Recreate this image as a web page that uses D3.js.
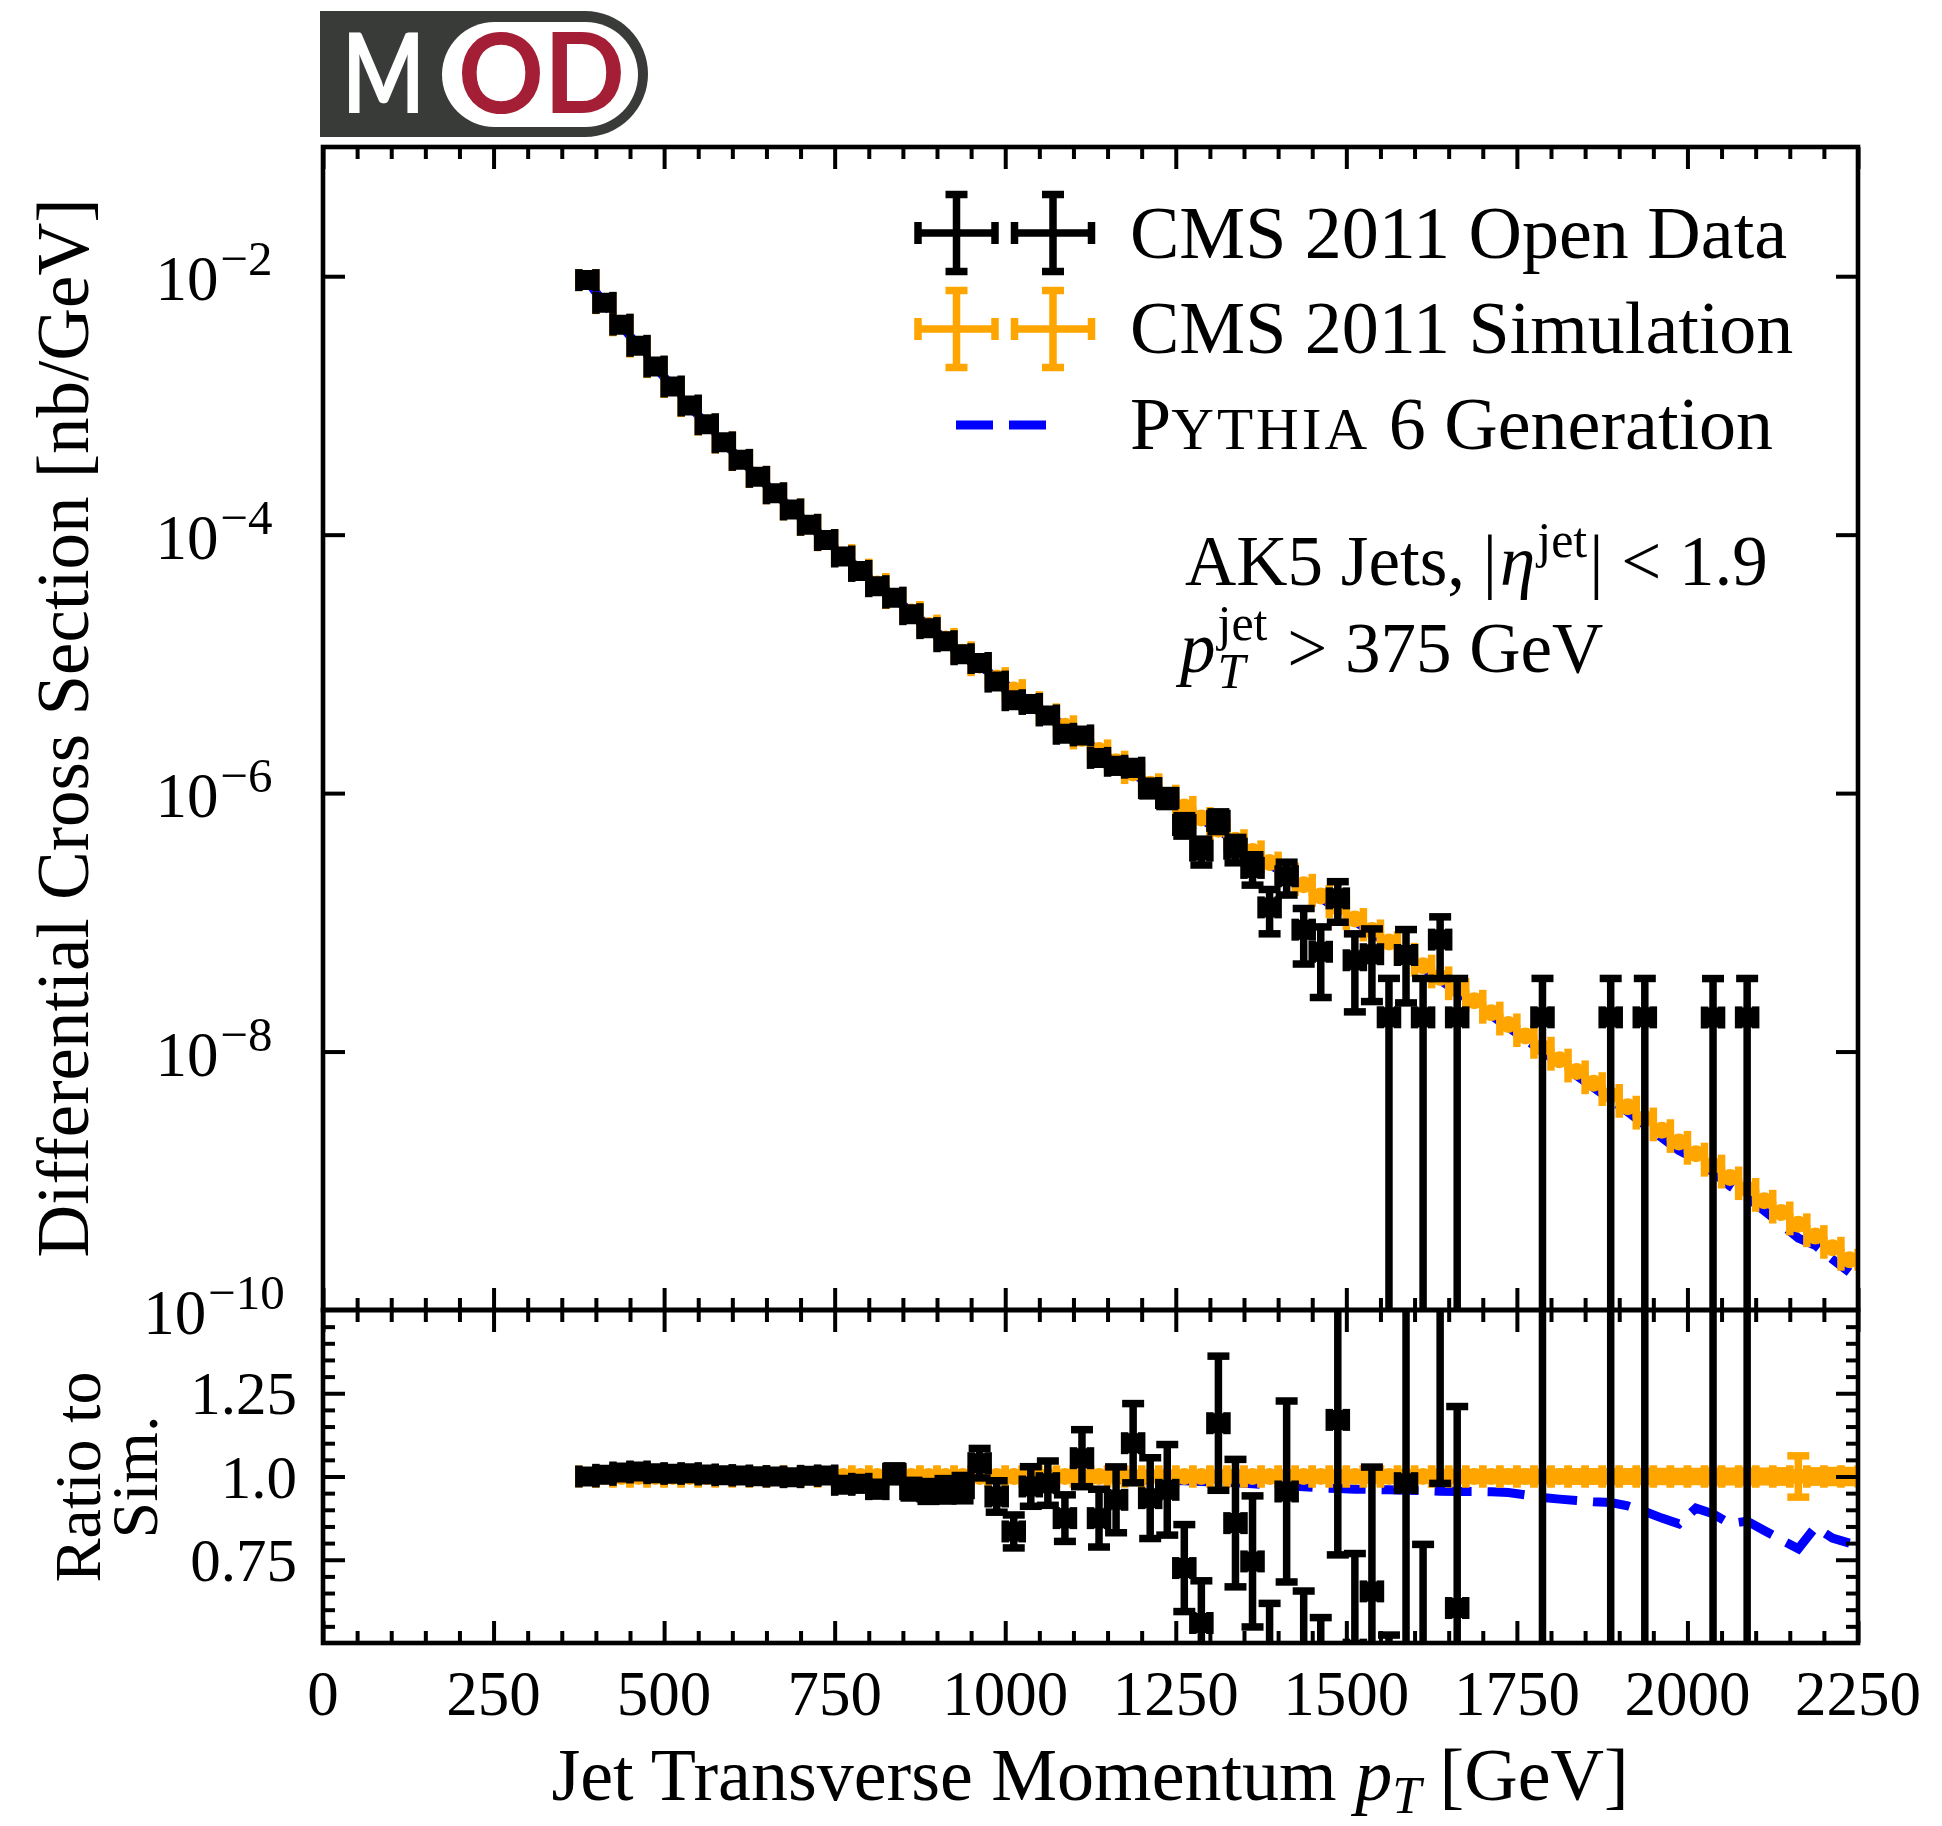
<!DOCTYPE html>
<html>
<head>
<meta charset="utf-8">
<script src="https://cdn.jsdelivr.net/npm/d3@7"></script>
<style>
  body { margin: 0; background: #fff; }
  svg { display: block; }
  .serif { font-family: "Liberation Serif", "DejaVu Serif", serif; fill: #000; }
</style>
</head>
<body>
<div id="container"></div>
<script>
const WIDTH = 1942;
const HEIGHT = 1826;
const LEFT = 323, RIGHT = 1858;
const MAIN_TOP = 147, MAIN_BOTTOM = 1310, RATIO_BOTTOM = 1643;
const LW = 7.5, CAP = 11;

// ---- data (25 GeV bins) ----
const binCenters = [
  387.5, 412.5, 437.5, 462.5, 487.5, 512.5, 537.5, 562.5, 587.5, 612.5,
  637.5, 662.5, 687.5, 712.5, 737.5, 762.5, 787.5, 812.5, 837.5, 862.5,
  887.5, 912.5, 937.5, 962.5, 987.5, 1012.5, 1037.5, 1062.5, 1087.5, 1112.5,
  1137.5, 1162.5, 1187.5, 1212.5, 1237.5, 1262.5, 1287.5, 1312.5, 1337.5, 1362.5,
  1387.5, 1412.5, 1437.5, 1462.5, 1487.5, 1512.5, 1537.5, 1562.5, 1587.5, 1612.5,
  1637.5, 1662.5, 1687.5, 1712.5, 1737.5, 1762.5, 1787.5, 1812.5, 1837.5, 1862.5,
  1887.5, 1912.5, 1937.5, 1962.5, 1987.5, 2012.5, 2037.5, 2062.5, 2087.5, 2112.5,
  2137.5, 2162.5, 2187.5, 2212.5, 2237.5
];
const BIN_HALF_WIDTH = 12.5;
const EVENT_WEIGHT = 1.84e-8; // nb/GeV carried by one data event

// CMS 2011 Simulation, nb/GeV
const simValues = [
  9.33e-3, 6.19e-3, 4.17e-3, 2.85e-3, 1.98e-3, 1.39e-3, 9.89e-4, 7.11e-4, 5.16e-4, 3.78e-4,
  2.80e-4, 2.09e-4, 1.57e-4, 1.19e-4, 9.06e-5, 6.95e-5, 5.36e-5, 4.15e-5, 3.23e-5, 2.52e-5,
  1.98e-5, 1.56e-5, 1.23e-5, 9.77e-6, 7.76e-6, 6.27e-6, 5.05e-6, 4.07e-6, 3.29e-6, 2.65e-6,
  2.14e-6, 1.75e-6, 1.43e-6, 1.17e-6, 9.55e-7, 7.82e-7, 6.41e-7, 5.26e-7, 4.32e-7, 3.54e-7,
  2.90e-7, 2.38e-7, 1.95e-7, 1.60e-7, 1.31e-7, 1.06e-7, 8.65e-8, 7.03e-8, 5.70e-8, 4.62e-8,
  3.75e-8, 3.04e-8, 2.47e-8, 2.00e-8, 1.62e-8, 1.32e-8, 1.07e-8, 8.65e-9, 7.02e-9, 5.69e-9,
  4.61e-9, 3.74e-9, 3.03e-9, 2.46e-9, 2.00e-9, 1.62e-9, 1.31e-9, 1.06e-9, 8.63e-10, 7.00e-10,
  5.68e-10, 4.60e-10, 3.73e-10, 3.03e-10, 2.45e-10
];
// relative statistical error of the simulation
const simRelErr = [
  0.001, 0.001, 0.001, 0.001, 0.001, 0.002, 0.002, 0.002, 0.002, 0.002,
  0.002, 0.002, 0.003, 0.003, 0.003, 0.003, 0.003, 0.004, 0.004, 0.004,
  0.004, 0.004, 0.005, 0.005, 0.005, 0.005, 0.006, 0.006, 0.006, 0.006,
  0.007, 0.007, 0.007, 0.007, 0.008, 0.008, 0.008, 0.008, 0.009, 0.009,
  0.009, 0.009, 0.010, 0.010, 0.010, 0.010, 0.011, 0.011, 0.011, 0.011,
  0.012, 0.012, 0.012, 0.012, 0.013, 0.013, 0.013, 0.013, 0.014, 0.014,
  0.014, 0.014, 0.015, 0.015, 0.015, 0.015, 0.016, 0.016, 0.016, 0.016,
  0.017, 0.062, 0.017, 0.018, 0.018
];
// CMS 2011 Open Data / Simulation (null = empty bin)
const dataRatio = [
  1.000, 1.005, 1.012, 1.015, 1.010, 1.008, 1.010, 1.006, 1.004, 1.003,
  1.001, 1.000, 0.998, 1.002, 1.003, 0.975, 0.978, 0.962, 1.008, 0.962,
  0.955, 0.960, 0.965, 1.040, 0.940, 0.835, 0.970, 0.980, 0.875, 1.055,
  0.875, 0.930, 1.100, 0.935, 0.960, 0.725, 0.560, 1.160, 0.860, 0.745,
  0.450, 0.955, 0.450, 0.370, 1.170, 0.480, 0.655, 0.262, 0.980, 0.398,
  1.960, 0.605, null, null, null, null, 1.72, null, null, null,
  3.99, null, 6.07, null, null, null, 14.0, null, 21.3, null,
  null, null, null, null, null
];
// Pythia 6 Generation / Simulation
const pythiaRatio = [
  0.985, 0.995, 0.998, 1.000, 1.000, 1.000, 0.999, 1.000, 1.000, 0.999,
  1.000, 1.000, 0.999, 1.000, 0.998, 0.999, 1.000, 0.998, 0.999, 0.997,
  0.998, 0.997, 0.996, 0.997, 0.995, 0.996, 0.994, 0.995, 0.993, 0.994,
  0.992, 0.991, 0.990, 0.990, 0.988, 0.987, 0.985, 0.983, 0.981, 0.978,
  0.975, 0.972, 0.969, 0.966, 0.964, 0.962, 0.961, 0.960, 0.959, 0.958,
  0.956, 0.955, 0.955, 0.954, 0.952, 0.945, 0.937, 0.932, 0.928, 0.924,
  0.922, 0.912, 0.895, 0.875, 0.858, 0.905, 0.888, 0.858, 0.866, 0.838,
  0.810, 0.783, 0.848, 0.815, 0.800
];

const xMajorTicks = [0, 250, 500, 750, 1000, 1250, 1500, 1750, 2000, 2250];
const mainYExponents = [-2, -4, -6, -8, -10];
const ratioTicks = [0.75, 1.0, 1.25];
const ratioTickLabels = ["0.75", "1.0", "1.25"];
const legendLabels = ["CMS 2011 Open Data", "CMS 2011 Simulation"];

// ---- scales ----
const x = d3.scaleLinear().domain([0, 2250]).range([LEFT, RIGHT]);
const y = d3.scaleLog().domain([1e-10, 1e-1]).range([MAIN_BOTTOM, MAIN_TOP]);
const yr = d3.scaleLinear().domain([0.5, 1.5]).range([RATIO_BOTTOM, MAIN_BOTTOM]);

const svg = d3.select("#container").append("svg")
    .attr("width", WIDTH).attr("height", HEIGHT);
svg.append("rect").attr("width", WIDTH).attr("height", HEIGHT).attr("fill", "#fff");

const defs = svg.append("defs");
defs.append("clipPath").attr("id", "clipMain").append("rect")
    .attr("x", LEFT).attr("y", MAIN_TOP).attr("width", RIGHT - LEFT).attr("height", MAIN_BOTTOM - MAIN_TOP);
defs.append("clipPath").attr("id", "clipRatio").append("rect")
    .attr("x", LEFT).attr("y", MAIN_BOTTOM).attr("width", RIGHT - LEFT).attr("height", RATIO_BOTTOM - MAIN_BOTTOM);

// ---- points ----
const simPts = binCenters.map((c, i) => ({
    x: c, dx: BIN_HALF_WIDTH, y: simValues[i],
    lo: simValues[i] * (1 - simRelErr[i]), hi: simValues[i] * (1 + simRelErr[i])
}));
const simRatioPts = binCenters.map((c, i) => ({
    x: c, dx: BIN_HALF_WIDTH, y: 1, lo: 1 - simRelErr[i], hi: 1 + simRelErr[i]
}));
const dataPts = [], dataRatioPts = [];
binCenters.forEach((c, i) => {
    const r = dataRatio[i];
    if (r == null) return;
    const v = r * simValues[i];
    const n = v / EVENT_WEIGHT;
    const e = v / Math.sqrt(n);
    dataPts.push({x: c, dx: BIN_HALF_WIDTH, y: v, lo: Math.max(v - e, 1e-13), hi: v + e});
    const re = r / Math.sqrt(n);
    dataRatioPts.push({x: c, dx: BIN_HALF_WIDTH, y: r, lo: r - re, hi: r + re});
});
const pythiaPts = binCenters.map((c, i) => ({x: c, v: simValues[i] * pythiaRatio[i], r: pythiaRatio[i]}));

var drawErrorBars = function (g, pts, ys, color, marker) {
    const b = g.selectAll(null).data(pts).join("g")
        .attr("stroke", color).attr("stroke-width", LW).attr("fill", color);
    b.append("line")
        .attr("x1", d => x(d.x - d.dx)).attr("x2", d => x(d.x + d.dx))
        .attr("y1", d => ys(d.y)).attr("y2", d => ys(d.y));
    b.append("line")
        .attr("x1", d => x(d.x)).attr("x2", d => x(d.x))
        .attr("y1", d => ys(d.lo)).attr("y2", d => ys(d.hi));
    [d => d.x - d.dx, d => d.x + d.dx].forEach(f => b.append("line")
        .attr("x1", d => x(f(d))).attr("x2", d => x(f(d)))
        .attr("y1", d => ys(d.y) - CAP).attr("y2", d => ys(d.y) + CAP));
    [d => d.lo, d => d.hi].forEach(f => b.append("line")
        .attr("x1", d => x(d.x) - CAP).attr("x2", d => x(d.x) + CAP)
        .attr("y1", d => ys(f(d))).attr("y2", d => ys(f(d))));
    if (marker === "square") {
        b.append("rect").attr("stroke", "none")
            .attr("x", d => x(d.x) - 10).attr("y", d => ys(d.y) - 10)
            .attr("width", 20).attr("height", 20).attr("rx", 2);
    } else if (marker === "circle") {
        b.append("circle").attr("stroke", "none")
            .attr("cx", d => x(d.x)).attr("cy", d => ys(d.y)).attr("r", 8.5);
    }
};

var dashed = function (g, line, data) {
    g.append("path").datum(data).attr("d", line)
        .attr("fill", "none").attr("stroke", "#0000ff")
        .attr("stroke-width", 9).attr("stroke-dasharray", "37,16");
};

// ---- main panel ----
const mainG = svg.append("g").attr("clip-path", "url(#clipMain)");
dashed(mainG, d3.line().x(d => x(d.x)).y(d => y(d.v)), pythiaPts);
drawErrorBars(mainG, simPts, y, "#ffa500", "circle");
drawErrorBars(mainG, dataPts, y, "#000", "square");

// ---- ratio panel ----
const ratioG = svg.append("g").attr("clip-path", "url(#clipRatio)");
dashed(ratioG, d3.line().x(d => x(d.x)).y(d => yr(d.r)), pythiaPts);
drawErrorBars(ratioG, simRatioPts, yr, "#ffa500", "circle");
drawErrorBars(ratioG, dataRatioPts, yr, "#000", "square");

// ---- ticks ----
const xMinor = d3.range(0, 2251, 50).filter(v => v % 250 !== 0);
var addTicks = function (axis, values, size, transform) {
    svg.append("g").attr("transform", transform)
        .call(axis.tickValues(values).tickSize(-size).tickSizeOuter(0).tickFormat(""))
        .call(a => a.select(".domain").remove())
        .call(a => a.selectAll("line").attr("stroke", "#000").attr("stroke-width", 4));
};
addTicks(d3.axisTop(x), xMajorTicks, 22, `translate(0,${MAIN_TOP})`);
addTicks(d3.axisTop(x), xMinor, 12, `translate(0,${MAIN_TOP})`);
addTicks(d3.axisBottom(x), xMajorTicks, 22, `translate(0,${RATIO_BOTTOM})`);
addTicks(d3.axisBottom(x), xMinor, 12, `translate(0,${RATIO_BOTTOM})`);
addTicks(d3.axisBottom(x), xMajorTicks, 22, `translate(0,${MAIN_BOTTOM})`);
addTicks(d3.axisBottom(x), xMinor, 12, `translate(0,${MAIN_BOTTOM})`);
addTicks(d3.axisTop(x), xMajorTicks, 22, `translate(0,${MAIN_BOTTOM})`);
addTicks(d3.axisTop(x), xMinor, 12, `translate(0,${MAIN_BOTTOM})`);

const mainYTicks = mainYExponents.slice(0, 4).map(e => Math.pow(10, e));
addTicks(d3.axisLeft(y), mainYTicks, 22, `translate(${LEFT},0)`);
addTicks(d3.axisRight(y), mainYTicks, 22, `translate(${RIGHT},0)`);
const ratioMinor = d3.range(11, 30).map(i => i * 0.05).filter(v => Math.abs(v * 4 - Math.round(v * 4)) > 1e-6);
addTicks(d3.axisLeft(yr), ratioTicks, 22, `translate(${LEFT},0)`);
addTicks(d3.axisLeft(yr), ratioMinor, 12, `translate(${LEFT},0)`);
addTicks(d3.axisRight(yr), ratioTicks, 22, `translate(${RIGHT},0)`);
addTicks(d3.axisRight(yr), ratioMinor, 12, `translate(${RIGHT},0)`);

// ---- frames ----
[[MAIN_TOP, MAIN_BOTTOM], [MAIN_BOTTOM, RATIO_BOTTOM]].forEach(([t, b]) => {
    svg.append("rect").attr("x", LEFT).attr("y", t).attr("width", RIGHT - LEFT).attr("height", b - t)
        .attr("fill", "none").attr("stroke", "#000").attr("stroke-width", 4.6);
});

// ---- text helper: parts with size, baseline shift, italic, stacked under previous ----
var richText = function (parent, px, py, parts, anchor, transform) {
    const t = parent.append("text").attr("class", "serif")
        .attr("x", px).attr("y", py).attr("text-anchor", anchor || "start");
    if (transform) t.attr("transform", transform);
    let base = 0, prevW = 0, carry = 0;
    parts.forEach(p => {
        const shift = p.shift || 0;
        const s = t.append("tspan").text(p.text)
            .style("font-size", p.size + "px").attr("dy", shift - base);
        if (p.italic) s.style("font-style", "italic");
        if (p.spacing) s.style("letter-spacing", p.spacing + "px");
        base = shift;
        const w = s.node().getComputedTextLength();
        let dx = carry + (p.gap || 0);
        carry = 0;
        if (p.under) {
            dx -= prevW;
            carry = Math.max(0, prevW - w);
        }
        if (dx) s.attr("dx", dx);
        prevW = w;
    });
    return t;
};

xMajorTicks.forEach(v => {
    svg.append("text").attr("class", "serif").attr("x", x(v)).attr("y", 1715)
        .attr("text-anchor", "middle").style("font-size", "63px").text(v);
});
ratioTicks.forEach((v, i) => {
    svg.append("text").attr("class", "serif").attr("x", 297).attr("y", yr(v) + 21)
        .attr("text-anchor", "end").style("font-size", "61px").text(ratioTickLabels[i]);
});
mainYExponents.forEach(e => {
    richText(svg, 214, y(Math.pow(10, e)) + 24, [
        {text: "10", size: 63},
        {text: "\u2212" + Math.abs(e), size: 49, shift: -25, gap: 2}
    ], "middle");
});

// ---- axis titles ----
richText(svg, 1090, 1800, [
    {text: "Jet Transverse Momentum ", size: 74},
    {text: "p", size: 74, italic: true},
    {text: "T", size: 52, italic: true, shift: 13},
    {text: " [GeV]", size: 74, shift: 0}
], "middle");
richText(svg, 0, 0, [{text: "Differential Cross Section [nb/GeV]", size: 73}], "middle",
    "translate(88,728) rotate(-90)");
richText(svg, 0, 0, [{text: "Ratio to", size: 66}], "middle", "translate(100,1477) rotate(-90)");
richText(svg, 0, 0, [{text: "Sim.", size: 66}], "middle", "translate(157,1477) rotate(-90)");

// ---- legend ----
var legendCross = function (cx, cy, color) {
    const g = svg.append("g").attr("stroke", color).attr("stroke-width", LW);
    const a = 38.5;
    [[cx - a, cy, cx + a, cy], [cx, cy - a, cx, cy + a],
     [cx - a, cy - CAP, cx - a, cy + CAP], [cx + a, cy - CAP, cx + a, cy + CAP],
     [cx - CAP, cy - a, cx + CAP, cy - a], [cx - CAP, cy + a, cx + CAP, cy + a]]
        .forEach(l => g.append("line").attr("x1", l[0]).attr("y1", l[1]).attr("x2", l[2]).attr("y2", l[3]));
};
[956.5, 1053].forEach(cx => {
    legendCross(cx, 233, "#000");
    legendCross(cx, 329, "#ffa500");
});
svg.append("line").attr("x1", 956).attr("x2", 1050).attr("y1", 425).attr("y2", 425)
    .attr("stroke", "#0000ff").attr("stroke-width", 9).attr("stroke-dasharray", "37,16");
const LEG_FONT = 74;
richText(svg, 1130, 258, [{text: legendLabels[0], size: LEG_FONT}]);
richText(svg, 1130, 353, [{text: legendLabels[1], size: LEG_FONT}]);
richText(svg, 1130, 449, [
    {text: "P", size: LEG_FONT},
    {text: "YTHIA", size: LEG_FONT * 0.8, spacing: 3},
    {text: " 6 Generation", size: LEG_FONT}
]);

// ---- annotation ----
const ANN_FONT = 71;
richText(svg, 1185, 585, [
    {text: "AK5 Jets, |", size: ANN_FONT},
    {text: "\u03B7", size: ANN_FONT, italic: true, gap: 3},
    {text: "jet", size: 50, shift: -28, gap: 2},
    {text: "| < 1.9", size: ANN_FONT, shift: 0, gap: 2}
]);
richText(svg, 1180, 672, [
    {text: "p", size: ANN_FONT, italic: true},
    {text: "jet", size: 50, shift: -32, gap: 2},
    {text: "T", size: 50, italic: true, shift: 16, under: true},
    {text: " > 375 GeV", size: ANN_FONT, shift: 0, gap: 2}
]);

// ---- MOD logo ----
const logo = svg.append("g");
logo.append("path").attr("d", "M320,11 H585 A63,63 0 0 1 585,137 H320 Z").attr("fill", "#393b39");
logo.append("rect").attr("x", 442).attr("y", 22).attr("width", 196).attr("height", 105)
    .attr("rx", 52.5).attr("fill", "#fff");
logo.append("text").attr("x", 342).attr("y", 113).attr("textLength", 83).attr("lengthAdjust", "spacingAndGlyphs")
    .style("font-family", "Lato").style("font-weight", 700).style("font-size", "111px").style("fill", "#fff").text("M");
logo.append("text").attr("x", 458).attr("y", 113).attr("textLength", 167).attr("lengthAdjust", "spacingAndGlyphs")
    .style("font-family", "Lato").style("font-weight", 700).style("font-size", "111px").style("fill", "#a41e35").text("OD");
</script>
</body>
</html>
